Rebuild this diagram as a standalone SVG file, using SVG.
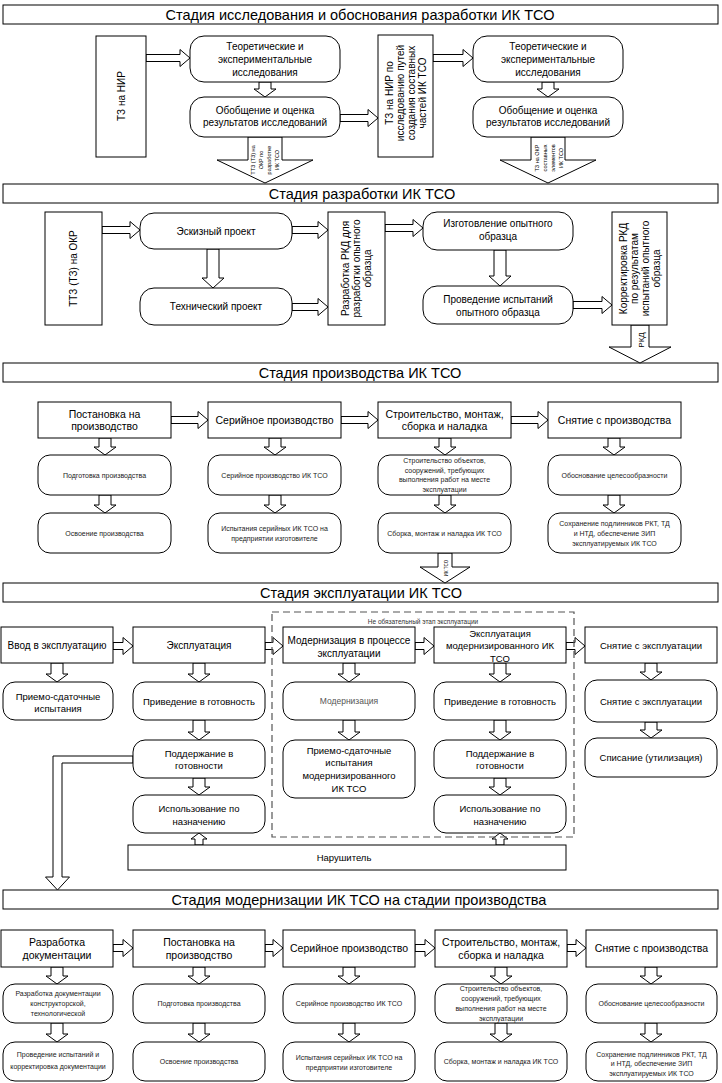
<svg xmlns="http://www.w3.org/2000/svg" width="722" height="1083" viewBox="0 0 722 1083">
<style>
.b{fill:#fff;stroke:#000;stroke-width:1}
.a{fill:#fff;stroke:#000;stroke-width:1}
.d{fill:none;stroke:#555;stroke-width:1.2;stroke-dasharray:7 4}
text{font-family:"Liberation Sans",Arial,sans-serif;fill:#000;text-anchor:middle}
.h{font-size:14.5px}
.m{font-size:10px}
.n{font-size:10.5px}
.s{font-size:7px;fill:#222}
.k{font-size:9.5px}
.g{font-size:8.5px;fill:#555}
.x{font-size:5.5px}
</style>
<rect width="722" height="1083" fill="#fff"/>

<!-- titles -->
<g id="title1"><rect class="b" x="3" y="5" width="715" height="19"/><text class="h" x="360" y="19.6">Стадия исследования и обоснования разработки ИК ТСО</text></g>
<g id="title2"><rect class="b" x="3" y="184" width="715" height="19"/><text class="h" x="362" y="198.6">Стадия разработки ИК ТСО</text></g>
<g id="title3"><rect class="b" x="3" y="363" width="715" height="19"/><text class="h" x="360" y="377.6">Стадия производства ИК ТСО</text></g>
<g id="title4"><rect class="b" x="3" y="583" width="715" height="19"/><text class="h" x="361" y="597.6">Стадия эксплуатации ИК ТСО</text></g>
<g id="title5"><rect class="b" x="3" y="890" width="715" height="19"/><text class="h" x="359" y="904.6">Стадия модернизации ИК ТСО на стадии производства</text></g>

<!-- connectors -->
<g id="connectors">
<!-- section 1 -->
<polygon class="a" points="146,54.5 180,54.5 180,49.5 190,58 180,66.5 180,61.5 146,61.5"/>
<polygon class="a" points="340,114.5 368,114.5 368,109.5 378,118 368,126.5 368,121.5 340,121.5"/>
<polygon class="a" points="433,54.5 463,54.5 463,49.5 473,58 463,66.5 463,61.5 433,61.5"/>
<polygon class="a" points="259,82 271,82 271,89 276,89 265,97 254,89 259,89"/>
<polygon class="a" points="542,82 554,82 554,89 559,89 548,97 537,89 542,89"/>
<polygon class="a" points="248,137 282,137 282,160 313,160 265,183 217,160 248,160"/>
<polygon class="a" points="531,137 565,137 565,160 596,160 548,183 500,160 531,160"/>
<g transform="translate(265,160) rotate(-90)"><text class="x" y="-10">ТТЗ (ТЗ) на</text><text class="x" y="-2">ОКР по</text><text class="x" y="6">разработке</text><text class="x" y="14">ИК ТСО</text></g>
<g transform="translate(549,158) rotate(-90)"><text class="x" y="-10">ТЗ на ОКР</text><text class="x" y="-2">составных</text><text class="x" y="6">элементов</text><text class="x" y="14">ИК ТСО</text></g>
<!-- section 2 -->
<polygon class="a" points="102,226.5 130,226.5 130,221.5 140,230 130,238.5 130,233.5 102,233.5"/>
<polygon class="a" points="292,226.5 318,226.5 318,221.5 328,230 318,238.5 318,233.5 292,233.5"/>
<polygon class="a" points="292,303.5 318,303.5 318,298.5 328,307 318,315.5 318,310.5 292,310.5"/>
<polygon class="a" points="385,224.5 413,224.5 413,219.5 423,228 413,236.5 413,231.5 385,231.5"/>
<polygon class="a" points="573,301.5 602,301.5 602,296.5 612,305 602,313.5 602,308.5 573,308.5"/>
<polygon class="a" points="207,249 219,249 219,278 224,278 213,288 202,278 207,278"/>
<polygon class="a" points="494,250 506,250 506,276 511,276 500,286 489,276 494,276"/>
<polygon class="a" points="631,325 649,325 649,347 671,347 640,363 609,347 631,347"/>
<g transform="translate(641,340) rotate(-90)"><text style="font-size:8px" y="3">РКД</text></g>
<!-- section 3 -->
<polygon class="a" points="171,416.5 198,416.5 198,411.5 208,420 198,428.5 198,423.5 171,423.5"/>
<polygon class="a" points="341,416.5 368,416.5 368,411.5 378,420 368,428.5 368,423.5 341,423.5"/>
<polygon class="a" points="511,416.5 538,416.5 538,411.5 548,420 538,428.5 538,423.5 511,423.5"/>
<polygon class="a" points="99,438 111,438 111,447 116,447 105,455 94,447 99,447"/>
<polygon class="a" points="99,495 111,495 111,505 116,505 105,513 94,505 99,505"/>
<polygon class="a" points="269,438 281,438 281,447 286,447 275,455 264,447 269,447"/>
<polygon class="a" points="269,495 281,495 281,505 286,505 275,513 264,505 269,505"/>
<polygon class="a" points="439,438 451,438 451,447 456,447 445,455 434,447 439,447"/>
<polygon class="a" points="439,495 451,495 451,505 456,505 445,513 434,505 439,505"/>
<polygon class="a" points="608,438 620,438 620,447 625,447 614,455 603,447 608,447"/>
<polygon class="a" points="608,495 620,495 620,505 625,505 614,513 603,505 608,505"/>
<polygon class="a" points="438,553 452,553 452,567 470,567 445,583 420,567 438,567"/>
<g transform="translate(446,568) rotate(-90)"><text style="font-size:4.5px" y="1.5">ИК ТСО</text></g>
<!-- section 4 -->
<polygon class="a" points="113,642.5 123,642.5 123,637.5 133,646 123,654.5 123,649.5 113,649.5"/>
<polygon class="a" points="265,642.5 273,642.5 273,637.5 283,646 273,654.5 273,649.5 265,649.5"/>
<polygon class="a" points="415,642.5 424,642.5 424,637.5 434,646 424,654.5 424,649.5 415,649.5"/>
<polygon class="a" points="566,642.5 575,642.5 575,637.5 585,646 575,654.5 575,649.5 566,649.5"/>
<polygon class="a" points="51,663 63,663 63,674 68,674 57,682 46,674 51,674"/>
<polygon class="a" points="193,663 205,663 205,674 210,674 199,682 188,674 193,674"/>
<polygon class="a" points="193,720 205,720 205,732 210,732 199,740 188,732 193,732"/>
<polygon class="a" points="193,778 205,778 205,787 210,787 199,795 188,787 193,787"/>
<polygon class="a" points="343,663 355,663 355,674 360,674 349,682 338,674 343,674"/>
<polygon class="a" points="343,720 355,720 355,732 360,732 349,740 338,732 343,732"/>
<polygon class="a" points="494,663 506,663 506,674 511,674 500,682 489,674 494,674"/>
<polygon class="a" points="494,720 506,720 506,732 511,732 500,740 489,732 494,732"/>
<polygon class="a" points="494,778 506,778 506,787 511,787 500,795 489,787 494,787"/>
<polygon class="a" points="645,663 657,663 657,672 662,672 651,680 640,672 645,672"/>
<polygon class="a" points="645,722 657,722 657,730 662,730 651,738 640,730 645,730"/>
<polygon class="a" points="195,845 203,845 203,839 207,839 199,833 191,839 195,839"/>
<polygon class="a" points="496,845 504,845 504,839 508,839 500,833 492,839 496,839"/>
<polygon class="a" points="133,756 53,756 53,877 45.5,877 57.5,890 69.5,877 62,877 62,763 133,763"/>
<!-- section 5 -->
<polygon class="a" points="113,944.5 123,944.5 123,939.5 133,948 123,956.5 123,951.5 113,951.5"/>
<polygon class="a" points="265,944.5 273,944.5 273,939.5 283,948 273,956.5 273,951.5 265,951.5"/>
<polygon class="a" points="415,944.5 425,944.5 425,939.5 435,948 425,956.5 425,951.5 415,951.5"/>
<polygon class="a" points="567,944.5 576,944.5 576,939.5 586,948 576,956.5 576,951.5 567,951.5"/>
<polygon class="a" points="51,967 63,967 63,976 68,976 57,984 46,976 51,976"/>
<polygon class="a" points="51,1023 63,1023 63,1034 68,1034 57,1042 46,1034 51,1034"/>
<polygon class="a" points="193,967 205,967 205,976 210,976 199,984 188,976 193,976"/>
<polygon class="a" points="193,1023 205,1023 205,1034 210,1034 199,1042 188,1034 193,1034"/>
<polygon class="a" points="343,967 355,967 355,976 360,976 349,984 338,976 343,976"/>
<polygon class="a" points="343,1023 355,1023 355,1034 360,1034 349,1042 338,1034 343,1034"/>
<polygon class="a" points="495,967 507,967 507,976 512,976 501,984 490,976 495,976"/>
<polygon class="a" points="495,1023 507,1023 507,1034 512,1034 501,1042 490,1034 495,1034"/>
<polygon class="a" points="645,967 657,967 657,976 662,976 651,984 640,976 645,976"/>
<polygon class="a" points="645,1023 657,1023 657,1034 662,1034 651,1042 640,1034 645,1034"/>
</g>

<!-- section 1 nodes -->
<g id="tz-nir"><rect class="b" x="96" y="36" width="50" height="121"/><text class="m" transform="translate(121,96) rotate(-90)" y="3.5">ТЗ на НИР</text></g>
<g id="theor1"><rect class="b" x="190" y="36" width="150" height="46" rx="14"/><text class="m" x="265" y="49.5">Теоретические и</text><text class="m" x="265" y="62.5">экспериментальные</text><text class="m" x="265" y="75.5">исследования</text></g>
<g id="obob1"><rect class="b" x="190" y="97" width="150" height="40" rx="14"/><text class="m" x="265" y="113.5">Обобщение и оценка</text><text class="m" x="265" y="126">результатов исследований</text></g>
<g id="tz-nir2"><rect class="b" x="378" y="35" width="55" height="122"/><g transform="translate(405.5,93) rotate(-90)"><text class="m" y="-13">ТЗ на НИР  по</text><text class="m" y="-2">исследованию путей</text><text class="m" y="9">создания составных</text><text class="m" y="20">частей ИК ТСО</text></g></g>
<g id="theor2"><rect class="b" x="473" y="36" width="150" height="46" rx="14"/><text class="m" x="548" y="49.5">Теоретические и</text><text class="m" x="548" y="62.5">экспериментальные</text><text class="m" x="548" y="75.5">исследования</text></g>
<g id="obob2"><rect class="b" x="473" y="97" width="150" height="40" rx="14"/><text class="m" x="548" y="113.5">Обобщение и оценка</text><text class="m" x="548" y="126">результатов исследований</text></g>

<!-- section 2 nodes -->
<g id="ttz-okr"><rect class="b" x="45" y="212" width="57" height="113"/><text class="m" transform="translate(73.5,268.5) rotate(-90)" y="3.5">ТТЗ (ТЗ) на ОКР</text></g>
<g id="eskiz"><rect class="b" x="140" y="213" width="152" height="36" rx="14"/><text class="m" x="216" y="234.5">Эскизный проект</text></g>
<g id="tech"><rect class="b" x="140" y="288" width="152" height="37" rx="14"/><text class="m" x="216" y="310">Технический проект</text></g>
<g id="rkd"><rect class="b" x="328" y="212" width="57" height="113"/><g transform="translate(356.5,268.5) rotate(-90)"><text class="m" y="-7.5">Разработка РКД для</text><text class="m" y="3.5">разработки опытного</text><text class="m" y="14.5">образца</text></g></g>
<g id="izgot"><rect class="b" x="423" y="212" width="150" height="38" rx="14"/><text class="m" x="498" y="227">Изготовление опытного</text><text class="m" x="498" y="240">образца</text></g>
<g id="ispyt"><rect class="b" x="423" y="286" width="150" height="38" rx="14"/><text class="m" x="498" y="302.5">Проведение испытаний</text><text class="m" x="498" y="315.5">опытного образца</text></g>
<g id="korr"><rect class="b" x="612" y="212" width="55" height="113"/><g transform="translate(639.5,268.5) rotate(-90)"><text class="m" y="-13">Корректировка РКД</text><text class="m" y="-2">по результатам</text><text class="m" y="9">испытаний опытного</text><text class="m" y="20">образца</text></g></g>

<!-- section 3 nodes -->
<g id="p-post"><rect class="b" x="38" y="402" width="133" height="36"/><text class="n" x="104.5" y="417.5">Постановка на</text><text class="n" x="104.5" y="430">производство</text></g>
<g id="p-ser"><rect class="b" x="208" y="402" width="133" height="36"/><text class="n" x="274.5" y="424">Серийное производство</text></g>
<g id="p-str"><rect class="b" x="378" y="402" width="133" height="36"/><text class="n" x="444.5" y="417.5">Строительство, монтаж,</text><text class="n" x="444.5" y="430">сборка и наладка</text></g>
<g id="p-snyat"><rect class="b" x="548" y="402" width="133" height="36"/><text class="n" x="614.5" y="424">Снятие с производства</text></g>
<g id="p-podg"><rect class="b" x="38" y="455" width="133" height="40" rx="12"/><text class="s" x="104.5" y="477.5">Подготовка производства</text></g>
<g id="p-osv"><rect class="b" x="38" y="513" width="133" height="40" rx="12"/><text class="s" x="104.5" y="535.5">Освоение производства</text></g>
<g id="p-ser1"><rect class="b" x="208" y="455" width="133" height="40" rx="12"/><text class="s" x="274.5" y="477.5">Серийное производство ИК ТСО</text></g>
<g id="p-ser2"><rect class="b" x="208" y="513" width="133" height="40" rx="12"/><text class="s" x="274.5" y="531">Испытания серийных ИК ТСО на</text><text class="s" x="274.5" y="540.5">предприятии изготовителе</text></g>
<g id="p-str1"><rect class="b" x="378" y="455" width="133" height="40" rx="12"/><text class="s" x="444.5" y="463">Строительство объектов,</text><text class="s" x="444.5" y="472.7">сооружений, требующих</text><text class="s" x="444.5" y="482.4">выполнения работ на месте</text><text class="s" x="444.5" y="492.1">эксплуатации</text></g>
<g id="p-str2"><rect class="b" x="378" y="513" width="133" height="40" rx="12"/><text class="s" x="444.5" y="535.5">Сборка, монтаж и наладка ИК ТСО</text></g>
<g id="p-sn1"><rect class="b" x="548" y="455" width="133" height="40" rx="12"/><text class="s" x="614.5" y="477.5">Обоснование целесообразности</text></g>
<g id="p-sn2"><rect class="b" x="548" y="513" width="133" height="40" rx="12"/><text class="s" x="614.5" y="526">Сохранение подлинников РКТ, ТД</text><text class="s" x="614.5" y="536">и НТД, обеспечение ЗИП</text><text class="s" x="614.5" y="546">эксплуатируемых ИК ТСО</text></g>

<!-- section 4 nodes -->
<g id="optional"><rect class="d" x="272" y="612" width="302" height="225"/><text style="font-size:6.5px;fill:#333" x="423" y="624">Не обязательный этап эксплуатации</text></g>
<g id="e-vvod"><rect class="b" x="1" y="627" width="112" height="36"/><text class="m" x="57" y="648.5">Ввод в эксплуатацию</text></g>
<g id="e-expl"><rect class="b" x="133" y="627" width="132" height="36"/><text class="m" x="199" y="648.5">Эксплуатация</text></g>
<g id="e-mod"><rect class="b" x="283" y="627" width="132" height="36"/><text class="m" x="349" y="643.5">Модернизация в процессе</text><text class="m" x="349" y="656.5">эксплуатации</text></g>
<g id="e-explmod"><rect class="b" x="434" y="627" width="132" height="36"/><text class="k" x="500" y="636.5">Эксплуатация</text><text class="k" x="500" y="649">модернизированного ИК</text><text class="k" x="500" y="661.5">ТСО</text></g>
<g id="e-snyat"><rect class="b" x="585" y="627" width="132" height="36"/><text class="k" x="651" y="648.5">Снятие с эксплуатации</text></g>
<g id="e-priem"><rect class="b" x="3" y="682" width="110" height="38" rx="12"/><text class="k" x="58" y="699.5">Приемо-сдаточные</text><text class="k" x="58" y="711.5">испытания</text></g>
<g id="e-prived"><rect class="b" x="133" y="682" width="132" height="38" rx="12"/><text class="k" x="199" y="704.5">Приведение в готовность</text></g>
<g id="e-podd"><rect class="b" x="133" y="740" width="132" height="38" rx="12"/><text class="k" x="199" y="756.5">Поддержание в</text><text class="k" x="199" y="768.5">готовности</text></g>
<g id="e-isp"><rect class="b" x="133" y="795" width="132" height="38" rx="12"/><text class="k" x="199" y="811.5">Использование по</text><text class="k" x="199" y="824.5">назначению</text></g>
<g id="e-mod1"><rect class="b" x="283" y="682" width="132" height="38" rx="12"/><text class="g" x="349" y="704">Модернизация</text></g>
<g id="e-mod2"><rect class="b" x="283" y="740" width="132" height="58" rx="12"/><text class="k" x="349" y="753.5">Приемо-сдаточные</text><text class="k" x="349" y="766.2">испытания</text><text class="k" x="349" y="778.9">модернизированного</text><text class="k" x="349" y="791.5">ИК ТСО</text></g>
<g id="e-prived2"><rect class="b" x="434" y="682" width="132" height="38" rx="12"/><text class="k" x="500" y="704.5">Приведение в готовность</text></g>
<g id="e-podd2"><rect class="b" x="434" y="740" width="132" height="38" rx="12"/><text class="k" x="500" y="756.5">Поддержание в</text><text class="k" x="500" y="768.5">готовности</text></g>
<g id="e-isp2"><rect class="b" x="434" y="795" width="132" height="38" rx="12"/><text class="k" x="500" y="811.5">Использование по</text><text class="k" x="500" y="824.5">назначению</text></g>
<g id="e-sn1"><rect class="b" x="585" y="680" width="132" height="42" rx="12"/><text class="k" x="651" y="704.5">Снятие с эксплуатации</text></g>
<g id="e-sn2"><rect class="b" x="585" y="738" width="132" height="39" rx="12"/><text class="k" x="651" y="761">Списание (утилизация)</text></g>
<g id="e-nar"><rect class="b" x="128" y="845" width="438" height="25"/><text class="k" x="344" y="861">Нарушитель</text></g>

<!-- section 5 nodes -->
<g id="m-razr"><rect class="b" x="1" y="930" width="112" height="37"/><text class="n" x="57" y="945.5">Разработка</text><text class="n" x="57" y="958.5">документации</text></g>
<g id="m-post"><rect class="b" x="133" y="930" width="132" height="37"/><text class="n" x="199" y="945.5">Постановка на</text><text class="n" x="199" y="958.5">производство</text></g>
<g id="m-ser"><rect class="b" x="283" y="930" width="132" height="37"/><text class="n" x="349" y="952">Серийное производство</text></g>
<g id="m-str"><rect class="b" x="435" y="930" width="132" height="37"/><text class="n" x="501" y="945.5">Строительство, монтаж,</text><text class="n" x="501" y="958.5">сборка и наладка</text></g>
<g id="m-snyat"><rect class="b" x="586" y="930" width="131" height="37"/><text class="n" x="651.5" y="952">Снятие с производства</text></g>
<g id="m-razr1"><rect class="b" x="3" y="984" width="110" height="39" rx="12"/><text class="s" x="58" y="995.5">Разработка документации</text><text class="s" x="58" y="1005.5">конструкторской,</text><text class="s" x="58" y="1015.5">технологической</text></g>
<g id="m-razr2"><rect class="b" x="3" y="1042" width="110" height="39" rx="12"/><text class="s" x="58" y="1057">Проведение испытаний и</text><text class="s" x="58" y="1068.5">корректировка документации</text></g>
<g id="m-podg"><rect class="b" x="133" y="984" width="132" height="39" rx="12"/><text class="s" x="199" y="1006">Подготовка производства</text></g>
<g id="m-osv"><rect class="b" x="133" y="1042" width="132" height="39" rx="12"/><text class="s" x="199" y="1064">Освоение производства</text></g>
<g id="m-ser1"><rect class="b" x="283" y="984" width="132" height="39" rx="12"/><text class="s" x="349" y="1006">Серийное производство ИК ТСО</text></g>
<g id="m-ser2"><rect class="b" x="283" y="1042" width="132" height="39" rx="12"/><text class="s" x="349" y="1059.5">Испытания серийных ИК ТСО на</text><text class="s" x="349" y="1069.5">предприятии изготовителе</text></g>
<g id="m-str1"><rect class="b" x="435" y="984" width="132" height="39" rx="12"/><text class="s" x="501" y="990.5">Строительство объектов,</text><text class="s" x="501" y="1000.8">сооружений, требующих</text><text class="s" x="501" y="1011.1">выполнения работ на месте</text><text class="s" x="501" y="1021.4">эксплуатации</text></g>
<g id="m-str2"><rect class="b" x="435" y="1042" width="132" height="39" rx="12"/><text class="s" x="501" y="1064">Сборка, монтаж и наладка ИК ТСО</text></g>
<g id="m-sn1"><rect class="b" x="586" y="984" width="131" height="39" rx="12"/><text class="s" x="651.5" y="1006">Обоснование целесообразности</text></g>
<g id="m-sn2"><rect class="b" x="586" y="1042" width="131" height="39" rx="12"/><text class="s" x="651.5" y="1056.5">Сохранение подлинников РКТ, ТД</text><text class="s" x="651.5" y="1066">и НТД, обеспечение ЗИП</text><text class="s" x="651.5" y="1075.5">эксплуатируемых ИК ТСО</text></g>
</svg>
